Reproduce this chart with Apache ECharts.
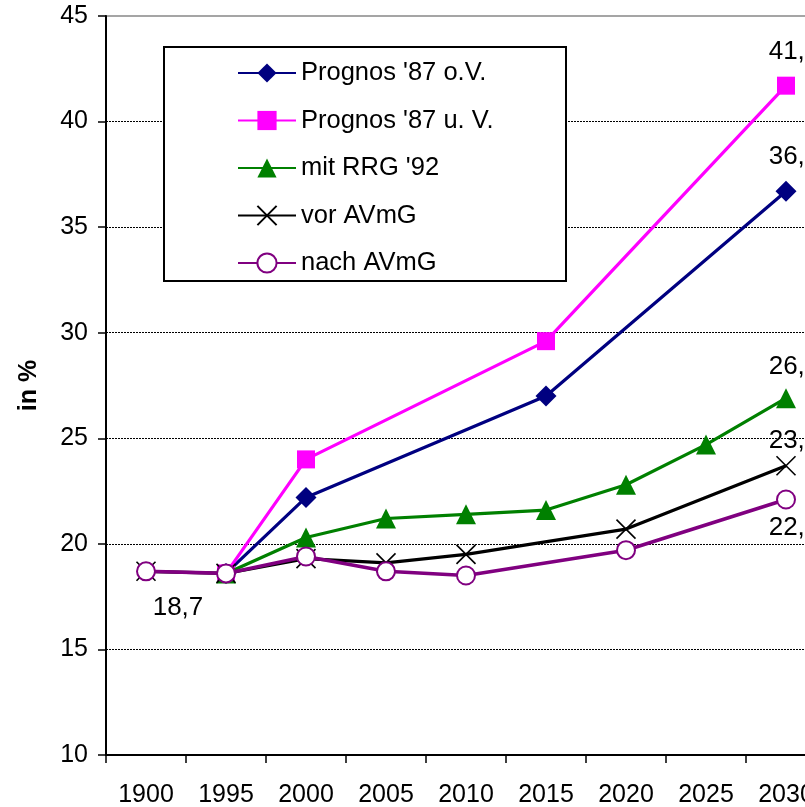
<!DOCTYPE html>
<html>
<head>
<meta charset="utf-8">
<script src="https://cdn.jsdelivr.net/npm/echarts@6/dist/echarts.min.js"></script>
<style>
html,body{margin:0;padding:0;background:#fff;}
#chart{width:805px;height:807px;}
</style>
</head>
<body>
<div id="chart"></div>
<script>
// ---- data ----
const categories = ['1900', '1995', '2000', '2005', '2010', '2015', '2020', '2025', '2030'];
const seriesNames = ["Prognos '87 o.V.", "Prognos '87 u. V.", "mit RRG '92", "vor AVmG", "nach AVmG"];
const prognosOV = [null, 18.6, 22.2, null, null, 27.0, null, null, 36.7];
const prognosUV = [null, 18.6, 24.0, null, null, 29.6, null, null, 41.7];
const mitRRG    = [null, 18.6, 20.3, 21.2, 21.4, 21.6, 22.8, 24.7, 26.9];
const vorAVmG   = [18.7, 18.6, 19.3, 19.1, 19.5, null, 20.7, null, 23.7];
const nachAVmG  = [18.7, 18.6, 19.4, 18.7, 18.5, null, 19.7, null, 22.1];
const yTicks = {min: 10, max: 45, interval: 5};

// ---- styling ----
const FONT = "'Liberation Sans', Arial, sans-serif";
// which points carry a value label, and label offset from the point
const labelSpec = [
  {8: [8, -34]},
  {8: [8, -34]},
  {8: [8, -31]},
  {8: [8, -25]},
  {0: [32, 37], 8: [8, 28]}
];
function fmt(v) { return v.toFixed(1).replace('.', ','); }
function buildData(vals, spec) {
  return vals.map((v, i) => {
    if (v === null) return null;
    if (spec[i]) {
      return {value: v, label: {show: true, position: 'inside', offset: spec[i], color: '#000',
        fontSize: 26, fontFamily: FONT, formatter: fmt(v)}};
    }
    return v;
  });
}
const styles = [
  {color: '#000080', symbol: 'diamond', size: 21, width: 3.2},
  {color: '#FF00FF', symbol: 'rect', size: 18, width: 3.2},
  {color: '#008000', symbol: 'triangle', size: 20, width: 3.2},
  {color: '#000000', symbol: 'path://M0,0L20,20M20,0L0,20', size: 19, width: 3.2, stroke: true},
  {color: '#800080', symbol: 'emptyCircle', size: 18, width: 3.6}
];
const values = [prognosOV, prognosUV, mitRRG, vorAVmG, nachAVmG];

const series = values.map((vals, k) => {
  const st = styles[k];
  const itemStyle = st.stroke
    ? {color: st.color, borderColor: st.color, borderWidth: 1.6}
    : (st.symbol === 'emptyCircle' ? {color: st.color, borderColor: st.color, borderWidth: 2} : {color: st.color});
  return {
    name: seriesNames[k],
    type: 'line',
    data: buildData(vals, labelSpec[k]),
    connectNulls: true,
    showAllSymbol: true,
    symbol: st.symbol,
    symbolSize: st.size,
    lineStyle: {color: st.color, width: st.width},
    itemStyle: itemStyle,
    emphasis: {disabled: true},
    animation: false,
    z: 2 + k * 0.1
  };
});

const chart = echarts.init(document.getElementById('chart'), null, {renderer: 'canvas'});
chart.setOption({
  backgroundColor: '#fff',
  animation: false,
  textStyle: {fontFamily: FONT},
  grid: {left: 106, width: 720, top: 16, bottom: 52, show: true, borderColor: '#888', borderWidth: 1.5,
         containLabel: false, outerBoundsMode: 'none'},
  graphic: [{
    type: 'rect', z: 3,
    shape: {x: 164, y: 47, width: 402, height: 234},
    style: {fill: '#fff', stroke: '#000', lineWidth: 2}
  }],
  legend: {
    data: seriesNames,
    orient: 'vertical',
    left: 237, top: 60,
    padding: 0,
    itemWidth: 58, itemHeight: 24, itemGap: 21.5,
    selectedMode: false,
    z: 5,
    textStyle: {fontSize: 25.5, color: '#000', fontFamily: FONT}
  },
  xAxis: {
    type: 'category',
    data: categories,
    boundaryGap: true,
    axisLine: {lineStyle: {color: '#000', width: 2}},
    axisTick: {show: true, length: 8, interval: 0, lineStyle: {color: '#000', width: 1.5}},
    axisLabel: {interval: 0, fontSize: 25, color: '#000', margin: 28, fontFamily: FONT},
    splitLine: {show: false}
  },
  yAxis: {
    type: 'value',
    min: yTicks.min, max: yTicks.max, interval: yTicks.interval,
    name: 'in %',
    nameLocation: 'middle',
    nameGap: 64,
    nameTextStyle: {fontSize: 25, fontWeight: 'bold', color: '#000', fontFamily: FONT},
    axisLine: {show: true, lineStyle: {color: '#000', width: 2}},
    axisTick: {show: true, length: 8, lineStyle: {color: '#000', width: 1.5}},
    axisLabel: {fontSize: 25, color: '#000', margin: 18, fontFamily: FONT},
    splitLine: {show: true, showMaxLine: false, lineStyle: {color: '#000', width: 1, type: [2, 1]}}
  },
  series: series
});
</script>
</body>
</html>
